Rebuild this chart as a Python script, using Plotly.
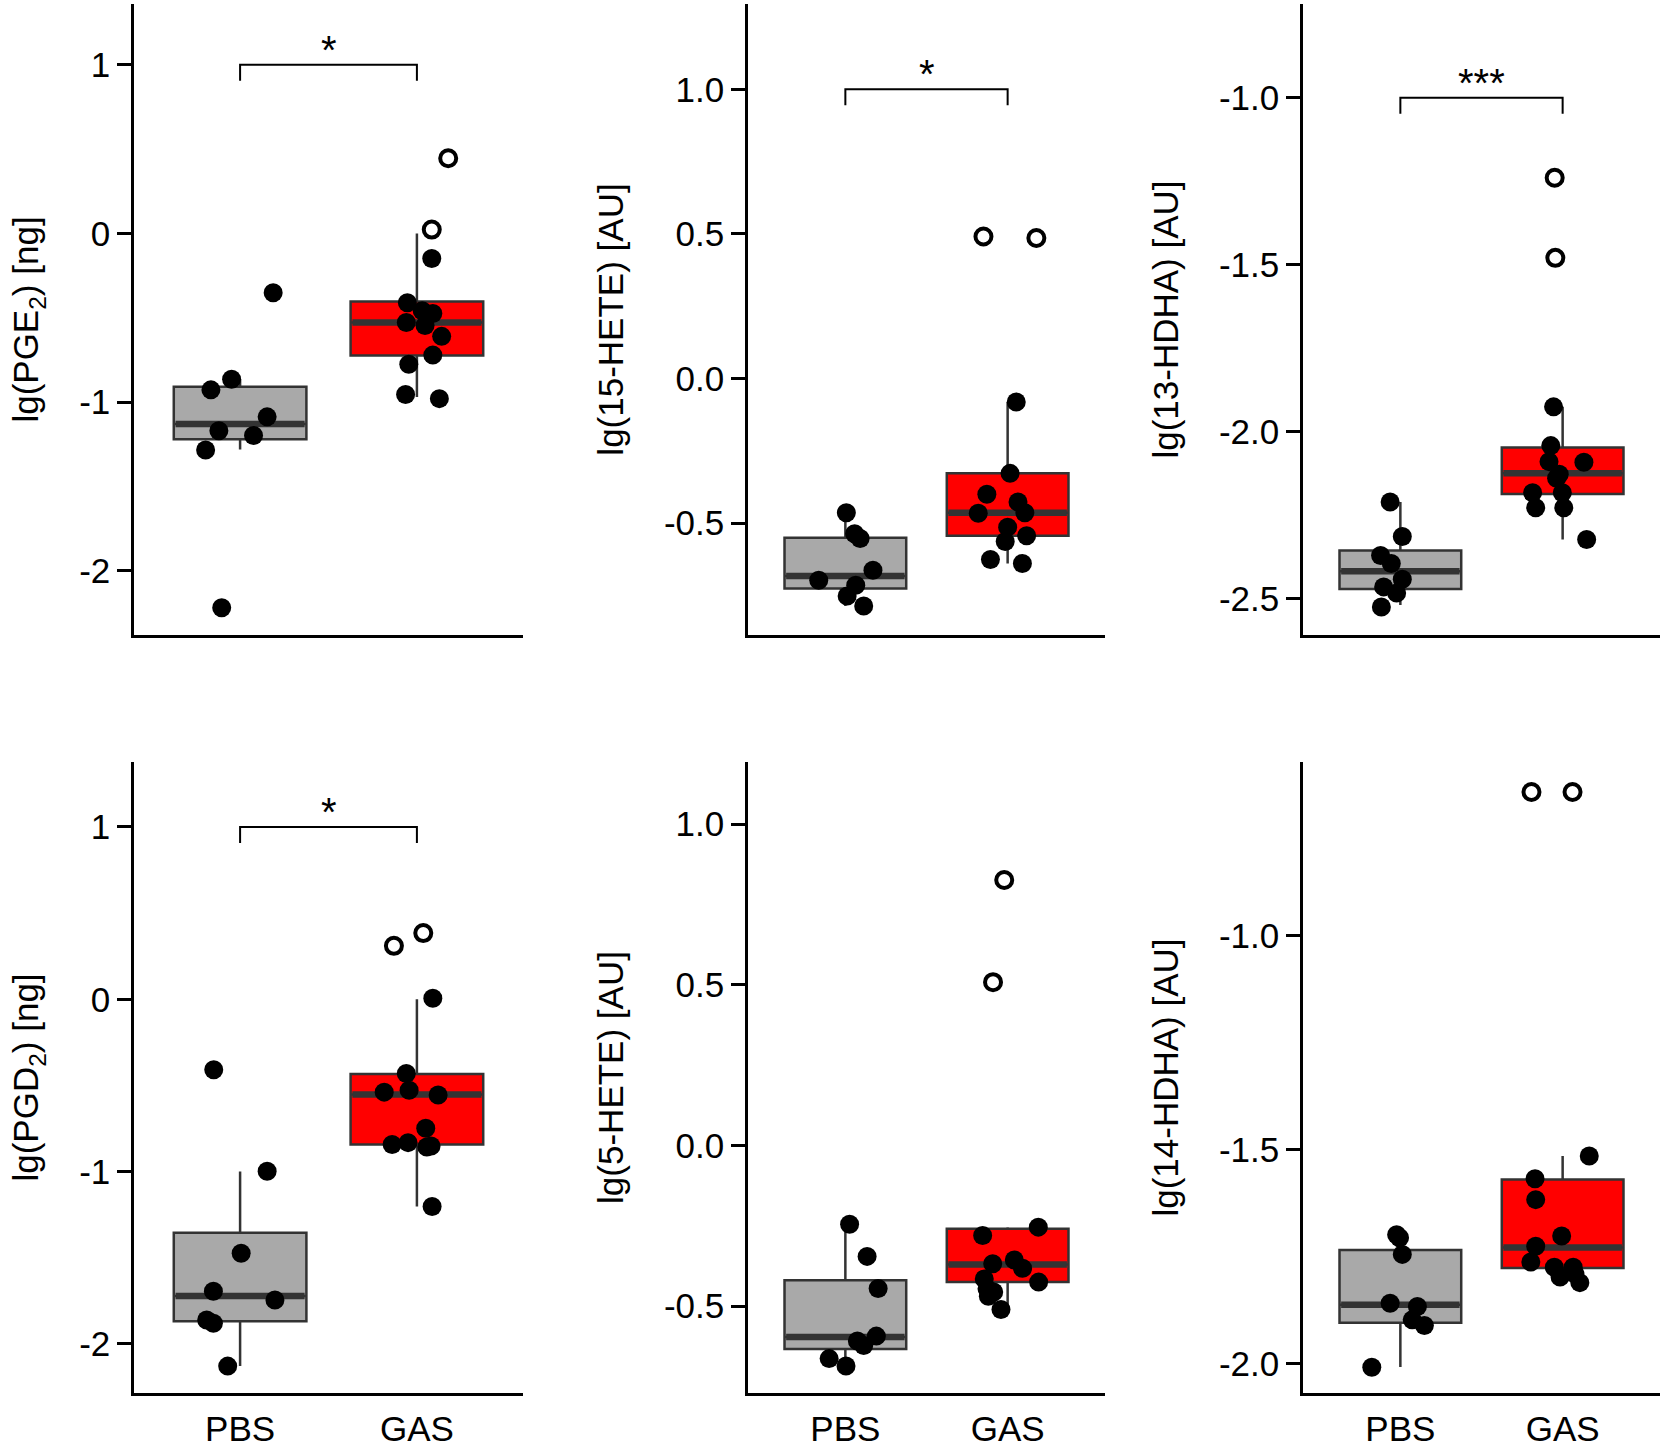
import plotly.graph_objects as go

# ---------------- data ----------------
groups = ["PBS", "GAS"]
group_pos = [1, 2]

y_titles = ["lg(PGE<sub>2</sub>) [ng]", "lg(15-HETE) [AU]", "lg(13-HDHA) [AU]",
            "lg(PGD<sub>2</sub>) [ng]", "lg(5-HETE) [AU]", "lg(14-HDHA) [AU]"]

# box statistics per panel: [q1, median, q3, lower whisker, upper whisker]
pge2_pbs_box = [-1.22, -1.13, -0.908, -1.28, -0.864]
pge2_gas_box = [-0.723, -0.528, -0.404, -0.969, 0.0]
hete15_pbs_box = [-0.726, -0.683, -0.551, -0.787, -0.464]
hete15_gas_box = [-0.544, -0.464, -0.328, -0.640, -0.081]
hdha13_pbs_box = [-2.470, -2.417, -2.355, -2.518, -2.210]
hdha13_gas_box = [-2.186, -2.124, -2.047, -2.322, -1.925]
pgd2_pbs_box = [-1.869, -1.722, -1.355, -2.129, -1.0]
pgd2_gas_box = [-0.843, -0.553, -0.434, -1.203, 0.0]
hete5_pbs_box = [-0.633, -0.596, -0.419, -0.686, -0.245]
hete5_gas_box = [-0.425, -0.370, -0.259, -0.510, -0.254]
hdha14_pbs_box = [-1.905, -1.863, -1.735, -2.008, -1.699]
hdha14_gas_box = [-1.777, -1.729, -1.570, -1.811, -1.515]

# individual (jittered) observations: values and jittered x positions
pge2_pbs_y = [-0.352, -0.864, -0.927, -1.087, -1.169, -1.197, -1.284, -2.218]
pge2_pbs_x = [1.187, 0.952, 0.835, 1.153, 0.880, 1.076, 0.805, 0.896]
pge2_gas_y = [-0.148, -0.411, -0.458, -0.474, -0.528, -0.545, -0.610, -0.721, -0.775, -0.955, -0.979]
pge2_gas_x = [2.084, 1.946, 2.030, 2.090, 1.940, 2.046, 2.140, 2.090, 1.954, 1.936, 2.127]
pge2_out_y = [0.446, 0.023]
pge2_out_x = [2.177, 2.084]

hete15_pbs_y = [-0.464, -0.537, -0.553, -0.663, -0.698, -0.715, -0.752, -0.787]
hete15_pbs_x = [1.006, 1.057, 1.091, 1.170, 0.836, 1.064, 1.011, 1.113]
hete15_gas_y = [-0.081, -0.328, -0.400, -0.427, -0.466, -0.464, -0.514, -0.544, -0.564, -0.626, -0.640]
hete15_gas_x = [2.053, 2.015, 1.872, 2.064, 1.819, 2.106, 2.000, 2.117, 1.985, 1.894, 2.091]
hete15_out_y = [0.491, 0.486]
hete15_out_x = [1.851, 2.177]

hdha13_pbs_y = [-2.210, -2.313, -2.370, -2.394, -2.441, -2.464, -2.482, -2.524]
hdha13_pbs_x = [0.937, 1.012, 0.878, 0.944, 1.012, 0.897, 0.977, 0.883]
hdha13_gas_y = [-1.925, -2.041, -2.089, -2.091, -2.127, -2.139, -2.182, -2.182, -2.227, -2.227, -2.322]
hdha13_gas_x = [1.944, 1.927, 1.916, 2.131, 1.979, 1.963, 1.815, 1.998, 1.834, 2.007, 2.148]
hdha13_out_y = [-1.239, -1.479]
hdha13_out_x = [1.951, 1.955]

pgd2_pbs_y = [-0.409, -0.998, -1.474, -1.695, -1.745, -1.861, -1.880, -2.129]
pgd2_pbs_x = [0.851, 1.153, 1.006, 0.849, 1.197, 0.811, 0.849, 0.930]
pgd2_gas_y = [0.006, -0.431, -0.539, -0.528, -0.556, -0.749, -0.843, -0.832, -0.857, -0.852, -1.203]
pgd2_gas_x = [2.090, 1.940, 1.815, 1.956, 2.120, 2.050, 1.860, 1.950, 2.056, 2.080, 2.086]
pgd2_out_y = [0.310, 0.384]
pgd2_out_x = [1.870, 2.036]

hete5_pbs_y = [-0.245, -0.345, -0.445, -0.593, -0.608, -0.622, -0.663, -0.686]
hete5_pbs_x = [1.026, 1.134, 1.202, 1.191, 1.074, 1.113, 0.900, 1.004]
hete5_gas_y = [-0.254, -0.280, -0.368, -0.356, -0.382, -0.425, -0.415, -0.446, -0.456, -0.469, -0.510]
hete5_gas_x = [2.189, 1.846, 1.908, 2.041, 2.092, 2.191, 1.856, 1.873, 1.914, 1.881, 1.959]
hete5_out_y = [0.508, 0.826]
hete5_out_x = [1.910, 1.979]

hdha14_pbs_y = [-1.699, -1.706, -1.745, -1.859, -1.867, -1.898, -1.911, -2.009]
hdha14_pbs_x = [0.977, 0.995, 1.012, 0.937, 1.105, 1.073, 1.148, 0.824]
hdha14_gas_y = [-1.515, -1.568, -1.617, -1.702, -1.726, -1.763, -1.775, -1.798, -1.775, -1.791, -1.811]
hdha14_gas_x = [2.164, 1.830, 1.834, 1.994, 1.834, 1.804, 1.949, 1.984, 2.065, 2.076, 2.106]
hdha14_out_y = [-0.664, -0.664]
hdha14_out_x = [1.808, 2.061]

# significance bracket level and label (None = no bracket)
sig_level = [1.0, 1.0, -1.0, 1.0, None, None]
sig_label = ["*", "*", "***", "*", "", ""]

# y tick values / labels
ytick_vals = [[1, 0, -1, -2], [1.0, 0.5, 0.0, -0.5], [-1.0, -1.5, -2.0, -2.5],
              [1, 0, -1, -2], [1.0, 0.5, 0.0, -0.5], [-1.0, -1.5, -2.0]]
ytick_text = [["1", "0", "-1", "-2"], ["1.0", "0.5", "0.0", "-0.5"], ["-1.0", "-1.5", "-2.0", "-2.5"],
              ["1", "0", "-1", "-2"], ["1.0", "0.5", "0.0", "-0.5"], ["-1.0", "-1.5", "-2.0"]]

# ---------------- assemble ----------------
box_stats = [(pge2_pbs_box, pge2_gas_box), (hete15_pbs_box, hete15_gas_box), (hdha13_pbs_box, hdha13_gas_box),
             (pgd2_pbs_box, pgd2_gas_box), (hete5_pbs_box, hete5_gas_box), (hdha14_pbs_box, hdha14_gas_box)]
points = [((pge2_pbs_x, pge2_pbs_y), (pge2_gas_x, pge2_gas_y), (pge2_out_x, pge2_out_y)),
          ((hete15_pbs_x, hete15_pbs_y), (hete15_gas_x, hete15_gas_y), (hete15_out_x, hete15_out_y)),
          ((hdha13_pbs_x, hdha13_pbs_y), (hdha13_gas_x, hdha13_gas_y), (hdha13_out_x, hdha13_out_y)),
          ((pgd2_pbs_x, pgd2_pbs_y), (pgd2_gas_x, pgd2_gas_y), (pgd2_out_x, pgd2_out_y)),
          ((hete5_pbs_x, hete5_pbs_y), (hete5_gas_x, hete5_gas_y), (hete5_out_x, hete5_out_y)),
          ((hdha14_pbs_x, hdha14_pbs_y), (hdha14_gas_x, hdha14_gas_y), (hdha14_out_x, hdha14_out_y))]

# ---------------- layout / style ----------------
W, H = 1663, 1448
col_px = [(134, 523), (748, 1105), (1303, 1660)]
row_px = [(4, 635), (762, 1393)]
y_ranges = [[-2.38, 1.36], [-0.887, 1.295], [-2.608, -0.719],
            [-2.285, 1.377], [-0.770, 1.193], [-2.069, -0.594]]
x_range = [0.4, 2.6]
box_colors = ["#A9A9A9", "#FF0000"]
edge = "#333333"
FONT = "Liberation Sans, Arial, Helvetica, sans-serif"
FS = 35
BOXW = 0.75

fig = go.Figure()
annotations = []
for i in range(6):
    r, c = divmod(i, 3)
    xa = "x" if i == 0 else f"x{i+1}"
    ya = "y" if i == 0 else f"y{i+1}"
    for g in range(2):
        q1, med, q3, lo, hi = box_stats[i][g]
        fig.add_trace(go.Box(x=[group_pos[g]], q1=[q1], median=[med], q3=[q3],
                             lowerfence=[lo], upperfence=[hi], width=BOXW,
                             fillcolor=box_colors[g], line=dict(color=edge, width=2.5),
                             whiskerwidth=0, boxpoints=False, showlegend=False,
                             hoverinfo="skip", xaxis=xa, yaxis=ya))
        fig.add_trace(go.Scatter(x=[group_pos[g] - BOXW / 2 + 0.01, group_pos[g] + BOXW / 2 - 0.01],
                                 y=[med, med], mode="lines", line=dict(color=edge, width=6.5),
                                 showlegend=False, hoverinfo="skip", xaxis=xa, yaxis=ya))
    (px_, py_), (gx, gy), (ox, oy) = points[i]
    fig.add_trace(go.Scatter(x=ox, y=oy, mode="markers",
                             marker=dict(symbol="circle-open", size=16, color="black",
                                         line=dict(width=4, color="black")),
                             showlegend=False, hoverinfo="skip", xaxis=xa, yaxis=ya))
    fig.add_trace(go.Scatter(x=list(px_) + list(gx), y=list(py_) + list(gy), mode="markers",
                             marker=dict(size=19, color="black"),
                             showlegend=False, hoverinfo="skip", xaxis=xa, yaxis=ya))
    y0p, y1p = row_px[r]
    yr = y_ranges[i]
    if sig_level[i] is not None:
        drop = 16 * (yr[1] - yr[0]) / (y1p - y0p)
        lv = sig_level[i]
        fig.add_trace(go.Scatter(x=[group_pos[0], group_pos[0], group_pos[1], group_pos[1]],
                                 y=[lv - drop, lv, lv, lv - drop], mode="lines",
                                 line=dict(color="black", width=2), showlegend=False,
                                 hoverinfo="skip", xaxis=xa, yaxis=ya))
        annotations.append(dict(x=sum(group_pos) / 2, y=lv, xref=xa, yref=ya, text=sig_label[i],
                                showarrow=False, yanchor="bottom", yshift=-9,
                                font=dict(size=40, color="black", family=FONT)))

    x0p, x1p = col_px[c]
    xdom = [x0p / W, x1p / W]
    ydom = [1 - y1p / H, 1 - y0p / H]
    xkey = "xaxis" if i == 0 else f"xaxis{i+1}"
    ykey = "yaxis" if i == 0 else f"yaxis{i+1}"
    fig.update_layout({
        xkey: dict(domain=xdom, range=x_range, anchor=ya, showline=True, linecolor="black",
                   linewidth=2.5, showgrid=False, zeroline=False, ticks="",
                   tickvals=group_pos, ticktext=groups, showticklabels=(r == 1),
                   ticklabelstandoff=3, tickfont=dict(size=FS, color="black", family=FONT),
                   automargin=False, fixedrange=True),
        ykey: dict(domain=ydom, range=yr, anchor=xa, showline=True, linecolor="black",
                   linewidth=2.5, showgrid=False, zeroline=False, ticks="outside",
                   ticklen=14, tickwidth=2.5, tickcolor="black",
                   tickvals=ytick_vals[i], ticktext=ytick_text[i],
                   tickfont=dict(size=FS, color="black", family=FONT),
                   title=dict(text=y_titles[i], standoff=30,
                              font=dict(size=FS, color="black", family=FONT)),
                   automargin=False, fixedrange=True),
    })

fig.update_layout(width=W, height=H, autosize=False, template="none",
                  margin=dict(l=0, r=0, t=0, b=0, pad=0),
                  plot_bgcolor="white", paper_bgcolor="white",
                  font=dict(family=FONT, size=FS, color="black"),
                  boxmode="overlay", showlegend=False, annotations=annotations)

fig.write_html("out.html", config={"displayModeBar": False},
               post_script="document.body.style.margin='0';")
